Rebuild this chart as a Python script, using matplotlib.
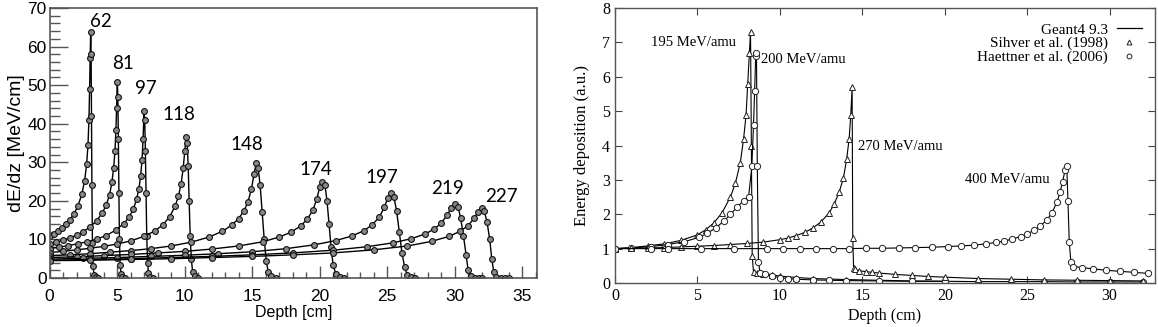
import matplotlib
matplotlib.use("Agg")
import matplotlib.pyplot as plt
from matplotlib.lines import Line2D

# ---------------- Left panel data (proton Bragg curves) ----------------
labels_left = ["62", "81", "97", "118", "148", "174", "197", "219", "227"]

x62 = [0, 0.3, 0.6, 0.9, 1.2, 1.5, 1.8, 2.1, 2.4, 2.6, 2.75, 2.85, 2.92, 2.97, 3.01, 3.05, 3.08, 3.11, 3.14, 3.18, 3.22, 3.3, 3.45, 3.6]
y62 = [10.8, 11.4, 12.1, 12.9, 13.9, 15.1, 16.6, 18.6, 21.8, 25.2, 29.5, 34.5, 41, 49, 57, 63.9, 58, 42, 24, 9, 3, 0.8, 0.2, 0.1]

x81 = [0, 0.5, 1.0, 1.5, 2.0, 2.5, 3.0, 3.5, 3.9, 4.2, 4.45, 4.62, 4.75, 4.85, 4.92, 4.97, 5.02, 5.06, 5.1, 5.14, 5.18, 5.23, 5.3, 5.4, 5.6]
y81 = [8.8, 9.3, 9.8, 10.4, 11.1, 12.0, 13.2, 14.9, 16.8, 18.9, 21.6, 24.8, 28.5, 33, 38.5, 44, 50.9, 47, 36, 22, 10, 3.5, 1, 0.3, 0.1]

x97 = [0, 0.7, 1.4, 2.1, 2.8, 3.5, 4.2, 4.9, 5.5, 5.9, 6.2, 6.45, 6.62, 6.75, 6.85, 6.93, 7.0, 7.05, 7.1, 7.15, 7.2, 7.26, 7.33, 7.45, 7.7]
y97 = [7.6, 8.0, 8.4, 8.9, 9.4, 10.1, 11.0, 12.4, 14.1, 15.8, 17.8, 20.4, 23.2, 26.5, 30.5, 36, 43.3, 41, 33, 22, 11, 4, 1.2, 0.3, 0.1]

x118 = [0, 1, 2, 3, 4, 5, 6, 7, 7.8, 8.4, 8.9, 9.3, 9.55, 9.75, 9.9, 10.02, 10.12, 10.2, 10.27, 10.34, 10.42, 10.5, 10.6, 10.75, 11.0]
y118 = [6.6, 6.9, 7.3, 7.7, 8.2, 8.8, 9.6, 10.8, 12.2, 13.8, 15.9, 18.6, 21.2, 24.5, 28.5, 33, 36.6, 35, 29, 20, 11, 5, 1.5, 0.4, 0.1]

x148 = [0, 1.5, 3, 4.5, 6, 7.5, 9, 10.5, 11.8, 12.8, 13.5, 14.0, 14.4, 14.7, 14.95, 15.15, 15.3, 15.45, 15.6, 15.75, 15.9, 16.05, 16.2, 16.4, 16.8]
y148 = [5.8, 6.0, 6.3, 6.7, 7.1, 7.6, 8.3, 9.3, 10.6, 12.1, 13.7, 15.4, 17.4, 19.8, 23, 27, 29.7, 28.5, 24, 17, 10, 4.5, 1.5, 0.4, 0.1]

x174 = [0, 2, 4, 6, 8, 10, 12, 14, 15.8, 17.0, 17.9, 18.6, 19.1, 19.5, 19.8, 20.0, 20.2, 20.4, 20.55, 20.7, 20.85, 21.0, 21.2, 21.5, 21.8]
y174 = [5.3, 5.5, 5.8, 6.1, 6.5, 6.9, 7.5, 8.3, 9.4, 10.6, 11.9, 13.5, 15.3, 17.6, 20.5, 23.5, 25.0, 24, 20, 14, 8, 3.5, 1.0, 0.2, 0.1]

x197 = [0, 2.5, 5, 7.5, 10, 12.5, 15, 17.5, 19.6, 21.2, 22.4, 23.3, 23.9, 24.4, 24.8, 25.05, 25.3, 25.5, 25.7, 25.9, 26.1, 26.3, 26.5, 26.8, 27.1]
y197 = [4.9, 5.1, 5.3, 5.6, 5.9, 6.3, 6.8, 7.6, 8.6, 9.7, 10.9, 12.3, 13.8, 15.7, 18.3, 20.8, 22.0, 21, 17.5, 12, 6.5, 2.8, 0.8, 0.2, 0.1]

x219 = [0, 3, 6, 9, 12, 15, 18, 21, 23.5, 25.4, 26.8, 27.8, 28.5, 29.0, 29.45, 29.75, 30.0, 30.25, 30.45, 30.65, 30.85, 31.0, 31.2, 31.5, 31.8, 32.0]
y219 = [4.6, 4.8, 5.0, 5.3, 5.6, 6.0, 6.5, 7.2, 8.1, 9.1, 10.2, 11.4, 12.7, 14.2, 16.3, 18.2, 19.2, 18.5, 15.5, 11, 6, 2.0, 0.5, 0.1, 0.1, 0.1]

x227 = [0, 3, 6, 9, 12, 15, 18, 21, 24, 26.5, 28.3, 29.6, 30.4, 31.0, 31.45, 31.75, 32.0, 32.2, 32.4, 32.6, 32.75, 32.9, 33.1, 33.4, 33.7, 34.0]
y227 = [4.5, 4.6, 4.8, 5.0, 5.3, 5.6, 6.0, 6.5, 7.3, 8.3, 9.5, 10.8, 12.1, 13.6, 15.5, 17.2, 18.1, 17.3, 14.5, 10, 5, 1.5, 0.3, 0.1, 0.1, 0.1]

left_curves = [(x62, y62), (x81, y81), (x97, y97), (x118, y118), (x148, y148),
               (x174, y174), (x197, y197), (x219, y219), (x227, y227)]
label_pos = [(3.8, 66.5), (5.45, 55.7), (7.1, 49.2), (9.6, 42.3), (14.6, 34.5),
             (19.7, 28.2), (24.6, 26.0), (29.5, 23.3), (33.5, 21.0)]

# ---------------- Right panel data (carbon ions) ----------------
x195 = [0, 1, 2, 3, 4, 5, 5.5, 6, 6.5, 7, 7.3, 7.6, 7.8, 7.95, 8.05, 8.15, 8.22, 8.27, 8.32, 8.4, 8.6, 9.0, 9.5, 10, 11, 12, 14, 16, 18, 20]
y195 = [1.0, 1.03, 1.08, 1.14, 1.24, 1.4, 1.55, 1.75, 2.05, 2.5, 2.9, 3.5, 4.2, 4.9, 5.8, 6.7, 7.3, 4.0, 0.8, 0.32, 0.3, 0.27, 0.24, 0.2, 0.16, 0.13, 0.1, 0.08, 0.06, 0.05]

x200 = [0, 1, 2.2, 3.2, 4.2, 5.1, 5.6, 6.1, 6.6, 7.0, 7.4, 7.8, 8.1, 8.3, 8.4, 8.47, 8.53, 8.58, 8.63, 8.7, 8.8, 9.1, 9.5, 10, 10.5, 11, 12, 13, 14, 16, 18, 20, 22, 24, 26, 28, 30, 32]
y200 = [1.0, 1.02, 1.06, 1.12, 1.2, 1.33, 1.45, 1.6, 1.8, 2.0, 2.2, 2.4, 2.5, 3.4, 4.6, 5.6, 6.6, 6.7, 3.4, 0.6, 0.3, 0.25, 0.2, 0.16, 0.13, 0.11, 0.09, 0.08, 0.07, 0.06, 0.05, 0.05, 0.04, 0.04, 0.04, 0.03, 0.03, 0.03]

x270 = [0, 1, 2, 3, 4, 5, 6, 7, 8, 9, 10, 10.5, 11, 11.5, 12, 12.5, 13, 13.3, 13.6, 13.85, 14.05, 14.2, 14.3, 14.38, 14.42, 14.47, 14.55, 14.8, 15.2, 15.6, 16, 17, 18, 19, 20, 22, 24, 26, 28, 30, 32]
y270 = [1.0, 1.01, 1.02, 1.03, 1.05, 1.07, 1.09, 1.12, 1.15, 1.19, 1.26, 1.31, 1.38, 1.47, 1.6, 1.78, 2.05, 2.3, 2.65, 3.05, 3.6, 4.2, 4.9, 5.7, 1.3, 0.45, 0.4, 0.36, 0.33, 0.31, 0.29, 0.25, 0.22, 0.19, 0.17, 0.13, 0.11, 0.09, 0.08, 0.07, 0.06]

x400 = [0, 2.2, 3.2, 5.2, 7.2, 9.2, 10.2, 11.2, 12.2, 13.2, 14.2, 15.2, 16.2, 17.2, 18.2, 19.2, 20.2, 21.0, 21.8, 22.5, 23.1, 23.6, 24.1, 24.6, 25.0, 25.4, 25.8, 26.2, 26.5, 26.8, 27.0, 27.15, 27.3, 27.4, 27.47, 27.55, 27.65, 27.8, 28.3, 29.0, 29.8, 30.6, 31.5, 32.3]
y400 = [1.0, 1.0, 1.0, 1.0, 1.0, 1.0, 1.0, 1.0, 1.0, 1.0, 1.0, 1.01, 1.01, 1.02, 1.03, 1.04, 1.06, 1.08, 1.1, 1.14, 1.18, 1.22, 1.28, 1.35, 1.43, 1.53, 1.66, 1.84, 2.04, 2.35, 2.65, 2.95, 3.3, 3.4, 2.4, 1.2, 0.6, 0.48, 0.45, 0.41, 0.37, 0.34, 0.31, 0.28]

right_curves = [(x195, y195, "^"), (x200, y200, "o"), (x270, y270, "^"), (x400, y400, "o")]
right_labels = ["195 MeV/amu", "200 MeV/amu", "270 MeV/amu", "400 MeV/amu"]
right_label_pos = [(2.2, 7.0, "left"), (8.85, 6.5, "left"), (14.75, 3.97, "left"), (21.2, 3.0, "left")]
legend_labels = ["Geant4 9.3", "Sihver et al. (1998)", "Haettner et al. (2006)"]

fig = plt.figure(figsize=(11.58, 3.27), dpi=100)

# ---------------- Left axes ----------------
axL = fig.add_axes([49.5 / 1158, 49 / 327, 487.5 / 1158, 270 / 327])
for xs, ys in left_curves:
    axL.plot(xs, ys, color="black", lw=1.0, marker="o", ms=4.2,
             mfc="#888888", mec="#111111", mew=0.8)
for lab, (lx, ly) in zip(labels_left, label_pos):
    axL.text(lx, ly, lab, ha="center", va="center", fontsize=13.5, family="Lato")
axL.set_xlim(0, 36.1)
axL.set_ylim(0, 70)
axL.set_xticks(range(0, 36, 5))
axL.set_xticks(range(0, 37, 1), minor=True)
axL.set_yticks(range(0, 71, 10))
axL.set_yticks(range(0, 71, 2), minor=True)
axL.tick_params(which="major", direction="in", length=9, width=1.0, color="#555555",
                labelsize=12.5, pad=2)
axL.tick_params(which="minor", direction="in", length=4.5, width=1.0, color="#555555")
axL.tick_params(axis="y", which="major", length=13)
axL.tick_params(axis="y", which="minor", length=7)
axL.tick_params(axis="x", which="major", pad=8)
for sp in axL.spines.values():
    sp.set_color("#555555")
    sp.set_linewidth(1.2)
for t in axL.get_xticklabels() + axL.get_yticklabels():
    t.set_family("Liberation Sans")
axL.set_xlabel("Depth [cm]", fontsize=11.5, family="Liberation Sans", labelpad=1)
axL.set_ylabel("dE/dz [MeV/cm]", fontsize=14, family="Liberation Sans", labelpad=2)

# ---------------- Right axes ----------------
axR = fig.add_axes([615 / 1158, 44 / 327, 540 / 1158, 275 / 327])
for xs, ys, mk in right_curves:
    axR.plot(xs, ys, color="black", lw=0.8, marker=mk, ms=4.5,
             mfc="white", mec="#222222", mew=0.7)
for lab, (lx, ly, ha) in zip(right_labels, right_label_pos):
    axR.text(lx, ly, lab, ha=ha, va="center", fontsize=10.5, family="Liberation Serif")
axR.set_xlim(0, 32.75)
axR.set_ylim(0, 8)
axR.set_xticks(range(0, 31, 5))
axR.set_yticks(range(0, 9, 1))
axR.tick_params(direction="in", length=5, width=0.8, top=True, right=True, labelsize=11.5,
                color="#444444")
for sp in axR.spines.values():
    sp.set_color("#555555")
    sp.set_linewidth(1.0)
for t in axR.get_xticklabels() + axR.get_yticklabels():
    t.set_family("Liberation Serif")
axR.set_xlabel("Depth (cm)", fontsize=11.5, family="Liberation Serif", labelpad=3)
axR.set_ylabel("Energy deposition (a.u.)", fontsize=12, family="Liberation Serif", labelpad=9)

handles = [Line2D([], [], color="black", lw=0.9),
           Line2D([], [], ls="none", marker="^", ms=3.5, mfc="white", mec="#222222", mew=0.7),
           Line2D([], [], ls="none", marker="o", ms=3.5, mfc="white", mec="#222222", mew=0.7)]
axR.legend(handles, legend_labels, loc="upper right", markerfirst=False, frameon=False,
           prop={"family": "Liberation Serif", "size": 11}, handlelength=1.6,
           handletextpad=0.6, labelspacing=0.0, borderaxespad=0.3,
           bbox_to_anchor=(0.995, 0.985))

fig.savefig("out.png", dpi=100)
